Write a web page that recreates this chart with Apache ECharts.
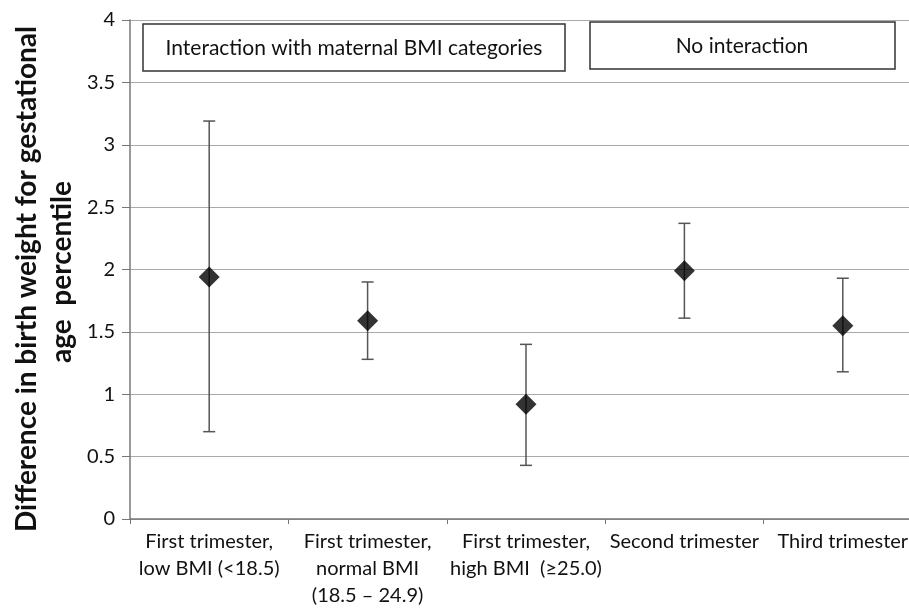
<!DOCTYPE html>
<html>
<head>
<meta charset="utf-8">
<script src="https://cdn.jsdelivr.net/npm/echarts@6/dist/echarts.min.js"></script>
<style>html,body{margin:0;padding:0;background:#fff;}#c{width:909px;height:612px;}</style>
</head>
<body>
<div id="c"></div>
<script>
var categories = ['First trimester,\nlow BMI (<18.5)', 'First trimester,\nnormal BMI\n(18.5 \u2013 24.9)', 'First trimester,\nhigh BMI  (\u226525.0)', 'Second trimester', 'Third trimester'];
var estimates = [1.94, 1.59, 0.92, 1.99, 1.55];
var lowerCI = [0.70, 1.28, 0.43, 1.61, 1.18];
var upperCI = [3.19, 1.90, 1.40, 2.37, 1.93];
var yTicks = [0, 0.5, 1, 1.5, 2, 2.5, 3, 3.5, 4];
var boxLabels = ['Interaction with maternal BMI categories', 'No interaction'];
var yTitle = ['Difference in birth weight for gestational', 'age  percentile'];

var FONT = 'Lato';
var chart = echarts.init(document.getElementById('c'), null, {renderer: 'canvas'});
var errData = categories.map(function (c, i) { return [i, lowerCI[i], upperCI[i]]; });

chart.setOption({
  animation: false,
  backgroundColor: '#fff',
  grid: {left: 130, top: 20, height: 499, width: 792, containLabel: false, outerBoundsMode: 'none'},
  xAxis: {
    type: 'category',
    data: categories,
    axisLine: {lineStyle: {color: '#777', width: 1.5}},
    axisTick: {show: true, length: 5, lineStyle: {color: '#777'}},
    axisLabel: {interval: 0, color: '#111', fontFamily: FONT, fontSize: 20, lineHeight: 27, margin: 9, hideOverlap: false},
    splitLine: {show: false}
  },
  yAxis: {
    type: 'value',
    min: yTicks[0], max: yTicks[yTicks.length - 1], interval: 0.5,
    axisLine: {show: true, lineStyle: {color: '#777', width: 1.5}},
    axisTick: {show: true, length: 8, lineStyle: {color: '#777'}},
    axisLabel: {color: '#111', fontFamily: FONT, fontSize: 20, margin: 15},
    splitLine: {show: true, lineStyle: {color: '#aaa', width: 1}}
  },
  graphic: [
    {type: 'text', rotation: Math.PI / 2, x: 27, y: 279, style: {text: yTitle[0], font: 'bold 28px Lato', fill: '#111', align: 'center', verticalAlign: 'middle'}},
    {type: 'text', rotation: Math.PI / 2, x: 62, y: 272, style: {text: yTitle[1], font: 'bold 28px Lato', fill: '#111', align: 'center', verticalAlign: 'middle'}},
    {type: 'rect', shape: {x: 143, y: 24, width: 422, height: 47}, style: {fill: '#fff', stroke: '#333', lineWidth: 1.5}, z: 10},
    {type: 'text', x: 354, y: 48, style: {text: boxLabels[0], font: '21px ' + FONT, fill: '#111', align: 'center', verticalAlign: 'middle'}, z: 11},
    {type: 'rect', shape: {x: 590, y: 22, width: 305, height: 47}, style: {fill: '#fff', stroke: '#333', lineWidth: 1.5}, z: 10},
    {type: 'text', x: 742, y: 46, style: {text: boxLabels[1], font: '21px ' + FONT, fill: '#111', align: 'center', verticalAlign: 'middle'}, z: 11}
  ],
  series: [
    {
      type: 'custom',
      data: errData,
      renderItem: function (params, api) {
        var x = api.value(0);
        var lo = api.coord([x, api.value(1)]);
        var hi = api.coord([x, api.value(2)]);
        var hw = 6;
        var st = {stroke: '#555', lineWidth: 1.5};
        return {type: 'group', children: [
          {type: 'line', shape: {x1: lo[0], y1: lo[1], x2: hi[0], y2: hi[1]}, style: st},
          {type: 'line', shape: {x1: lo[0] - hw, y1: lo[1], x2: lo[0] + hw, y2: lo[1]}, style: st},
          {type: 'line', shape: {x1: hi[0] - hw, y1: hi[1], x2: hi[0] + hw, y2: hi[1]}, style: st}
        ]};
      },
      z: 2
    },
    {
      type: 'scatter',
      data: estimates,
      symbol: 'diamond',
      symbolSize: [21, 21],
      itemStyle: {color: '#000'},
      z: 3
    }
  ]
});
</script>
</body>
</html>
